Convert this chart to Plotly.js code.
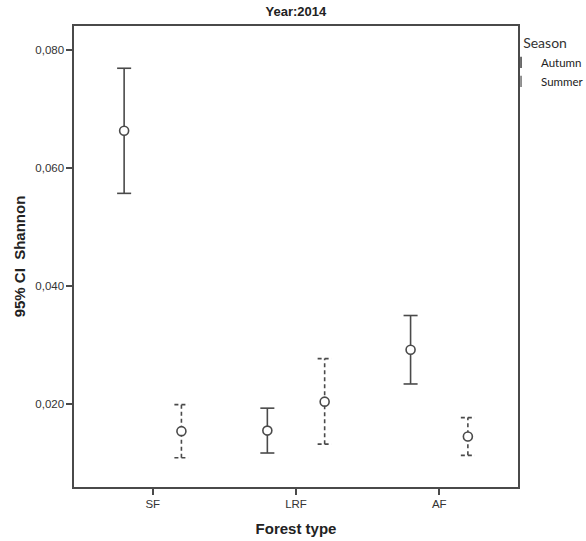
<!DOCTYPE html>
<html>
<head>
<meta charset="utf-8">
<script src="https://cdn.plot.ly/plotly-3.0.1.min.js"></script>
<style>html,body{margin:0;padding:0;background:#fff}#chart{width:586px;height:541px}</style>
</head>
<body>
<div id="chart"></div>
<script>
// ---- data ----
const categories = ['SF', 'LRF', 'AF'];
const seasons = ['Autumn', 'Summer'];
const autumnMean = [0.0663, 0.0155, 0.0292];
const autumnLow  = [0.0557, 0.0117, 0.0234];
const autumnHigh = [0.0769, 0.0193, 0.0350];
const summerMean = [0.0154, 0.0204, 0.0145];
const summerLow  = [0.0109, 0.0132, 0.0113];
const summerHigh = [0.0199, 0.0277, 0.0177];
const yTicks = [0.02, 0.04, 0.06, 0.08];

// ---- styling ----
const ink = '#4a4a4a';
const dodge = 0.2;       // within-category offset of each season
const capHalf = 0.049;   // half width of the CI caps (category units)

function ciSegments(means, lows, highs, off) {
  const xs = [], ys = [];
  means.forEach((m, i) => {
    const cx = i + off;
    xs.push(cx, cx, null); ys.push(lows[i], highs[i], null);
    xs.push(cx - capHalf, cx + capHalf, null); ys.push(highs[i], highs[i], null);
    xs.push(cx - capHalf, cx + capHalf, null); ys.push(lows[i], lows[i], null);
  });
  return {xs, ys};
}

const aSeg = ciSegments(autumnMean, autumnLow, autumnHigh, -dodge);
const sSeg = ciSegments(summerMean, summerLow, summerHigh, dodge);

const traces = [
  {x: aSeg.xs, y: aSeg.ys, type: 'scatter', mode: 'lines', connectgaps: false,
   line: {color: ink, width: 1.6}, showlegend: false, hoverinfo: 'skip'},
  {x: sSeg.xs, y: sSeg.ys, type: 'scatter', mode: 'lines', connectgaps: false,
   line: {color: ink, width: 1.6, dash: '4px,3px'}, showlegend: false, hoverinfo: 'skip'},
  {x: categories.map((c, i) => i - dodge), y: autumnMean, type: 'scatter', mode: 'markers',
   marker: {symbol: 'circle', size: 9, color: '#ffffff', line: {color: ink, width: 1.6}},
   showlegend: false, name: seasons[0]},
  {x: categories.map((c, i) => i + dodge), y: summerMean, type: 'scatter', mode: 'markers',
   marker: {symbol: 'circle', size: 9, color: '#ffffff', line: {color: ink, width: 1.6}},
   showlegend: false, name: seasons[1]},
  // legend entries
  {x: [null], y: [null], type: 'scatter', mode: 'markers', name: seasons[0],
   marker: {symbol: 'line-ns-open', size: 8, color: ink, line: {color: ink, width: 1.6}}},
  {x: [null], y: [null], type: 'scatter', mode: 'markers', name: seasons[1],
   marker: {symbol: 'line-ns-open', size: 8, color: ink, line: {color: '#777', width: 1.2}}}
];

const layout = {
  width: 586, height: 541,
  margin: {l: 74, r: 68, t: 26, b: 54, pad: 0, autoexpand: false},
  paper_bgcolor: '#ffffff', plot_bgcolor: '#ffffff',
  separators: ',.',
  font: {family: 'Liberation Sans, Arial, sans-serif', color: '#333333', size: 12},
  title: {text: '<b>Year:2014</b>', x: 0.505, xanchor: 'center', y: 0.978, yanchor: 'middle', yref: 'container',
          font: {family: 'Liberation Sans, Arial, sans-serif', size: 13, color: '#222'}},
  xaxis: {
    range: [-0.55, 2.55], tickmode: 'array', tickvals: categories.map((c, i) => i), ticktext: categories,
    showgrid: false, zeroline: false, showline: true, linecolor: ink, linewidth: 1.6, mirror: true,
    ticks: 'outside', ticklen: 6, tickwidth: 1.6, tickcolor: ink,
    tickfont: {size: 11.5, color: '#333'},
    title: {text: '<b>Forest type</b>', standoff: 14, font: {size: 15, color: '#222'}},
    automargin: false, fixedrange: true
  },
  yaxis: {
    range: [0.00594, 0.08406], tickmode: 'array', tickvals: yTicks, tickformat: '.3f',
    showgrid: false, zeroline: false, showline: true, linecolor: ink, linewidth: 1.6, mirror: true,
    ticks: 'outside', ticklen: 6, tickwidth: 1.6, tickcolor: ink,
    tickfont: {size: 11.5, color: '#333'},
    title: {text: '<b>95% CI  Shannon</b>', standoff: 6, font: {size: 15, color: '#222'}},
    automargin: false, fixedrange: true
  },
  showlegend: true,
  legend: {
    xref: 'container', x: 0.855, xanchor: 'left', yref: 'container', y: 0.945, yanchor: 'top',
    bgcolor: 'rgba(0,0,0,0)', borderwidth: 0,
    font: {family: 'Lato, Liberation Sans, sans-serif', size: 11.5, color: '#222'},
    title: {text: 'Season', side: 'top center', font: {family: 'Lato, Liberation Sans, sans-serif', size: 14, color: '#333'}},
    itemwidth: 30, tracegroupgap: 0
  }
};

Plotly.newPlot('chart', traces, layout, {displayModeBar: false, staticPlot: true});
</script>
</body>
</html>
